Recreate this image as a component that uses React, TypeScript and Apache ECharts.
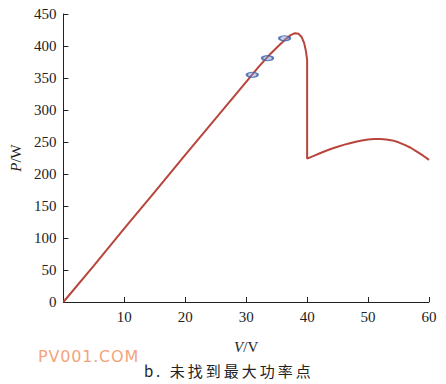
import React, { useEffect, useRef } from "react";
import * as echarts from "echarts";

const pvCurve: [number, number][] = [
  [0, 0], [5, 57], [10, 115], [15, 172], [20, 230], [25, 287], [30, 344],
  [32, 367], [34, 388], [35.5, 402], [36.5, 411], [37.3, 417], [38, 420],
  [38.6, 419], [39.1, 414], [39.5, 405], [39.8, 392], [40, 378], [40, 224],
  [41, 228], [42, 232], [43, 236], [44, 239.5], [45, 242.5], [46, 245.5],
  [47, 248], [48, 250.5], [49, 252.5], [50, 254], [51, 254.5], [52, 254.5],
  [53, 254], [54, 252.5], [55, 249.5], [56, 245.5], [57, 241], [58, 235],
  [59, 229], [60, 222],
];
const trackPoints: [number, number][] = [
  [31.0, 355], [33.5, 381], [36.3, 412],
];
const xTicks = [0, 10, 20, 30, 40, 50, 60];
const yTicks = [0, 50, 100, 150, 200, 250, 300, 350, 400, 450];
const watermark = "PV001.COM";
const caption = "b. 未找到最大功率点";

export default function App() {
  const ref = useRef<HTMLDivElement>(null);
  useEffect(() => {
    const chart = echarts.init(ref.current!, null, { renderer: "svg" });
    const serif = "Liberation Serif";
    chart.setOption({
      animation: false,
      backgroundColor: "#ffffff",
      grid: { left: 62, right: 17, top: 14, bottom: 82, containLabel: false },
      xAxis: {
        type: "value",
        min: xTicks[0],
        max: xTicks[xTicks.length - 1],
        interval: 10,
        axisLine: { show: true, lineStyle: { color: "#222", width: 1 } },
        axisTick: { show: true, inside: true, length: 5, lineStyle: { color: "#222" } },
        splitLine: { show: false },
        axisLabel: {
          color: "#222",
          fontFamily: serif,
          fontSize: 15,
          margin: 7,
          formatter: (v: number) => (v === 0 ? "" : String(v)),
        },
        name: "{i|V}/V",
        nameLocation: "middle",
        nameGap: 37,
        nameTextStyle: {
          color: "#222",
          fontFamily: serif,
          fontSize: 15,
          rich: { i: { fontStyle: "italic", fontFamily: serif, fontSize: 15, color: "#222" } },
        },
      },
      yAxis: {
        type: "value",
        min: yTicks[0],
        max: yTicks[yTicks.length - 1],
        interval: 50,
        axisLine: { show: true, lineStyle: { color: "#222", width: 1 } },
        axisTick: { show: true, inside: true, length: 5, lineStyle: { color: "#222" } },
        splitLine: { show: false },
        axisLabel: { color: "#222", fontFamily: serif, fontSize: 15, margin: 7 },
        name: "{i|P}/W",
        nameLocation: "middle",
        nameRotate: 90,
        nameGap: 40,
        nameTextStyle: {
          color: "#222",
          fontFamily: serif,
          fontSize: 15,
          rich: { i: { fontStyle: "italic", fontFamily: serif, fontSize: 15, color: "#222" } },
        },
      },
      series: [
        {
          type: "line",
          data: pvCurve,
          smooth: false,
          showSymbol: false,
          lineStyle: { color: "#b8453b", width: 2 },
          z: 2,
        },
        {
          type: "scatter",
          data: trackPoints,
          symbol: "circle",
          symbolSize: [11, 5],
          itemStyle: { color: "rgba(120,150,210,0.55)", borderColor: "#3a5aa5", borderWidth: 1.6 },
          z: 3,
        },
      ],
      graphic: [
        {
          type: "text",
          left: 38,
          top: 348,
          style: {
            text: watermark,
            fill: "#f4a47c",
            font: "16px 'DejaVu Sans'",
          },
        },
        {
          type: "text",
          left: 144,
          top: 363,
          style: {
            text: caption,
            fill: "#222",
            font: "15px 'Noto Sans CJK SC'",
          },
        },
      ],
    });
    const root = ref.current!;
    root.querySelectorAll("text").forEach((t) => {
      const s = t.textContent || "";
      if (s === watermark) t.setAttribute("letter-spacing", "0.8px");
      if (s === caption) t.setAttribute("letter-spacing", "3px");
    });
    return () => chart.dispose();
  }, []);
  return <div ref={ref} style={{ width: 446, height: 384, position: "absolute", left: 0, top: 0 }} />;
}
